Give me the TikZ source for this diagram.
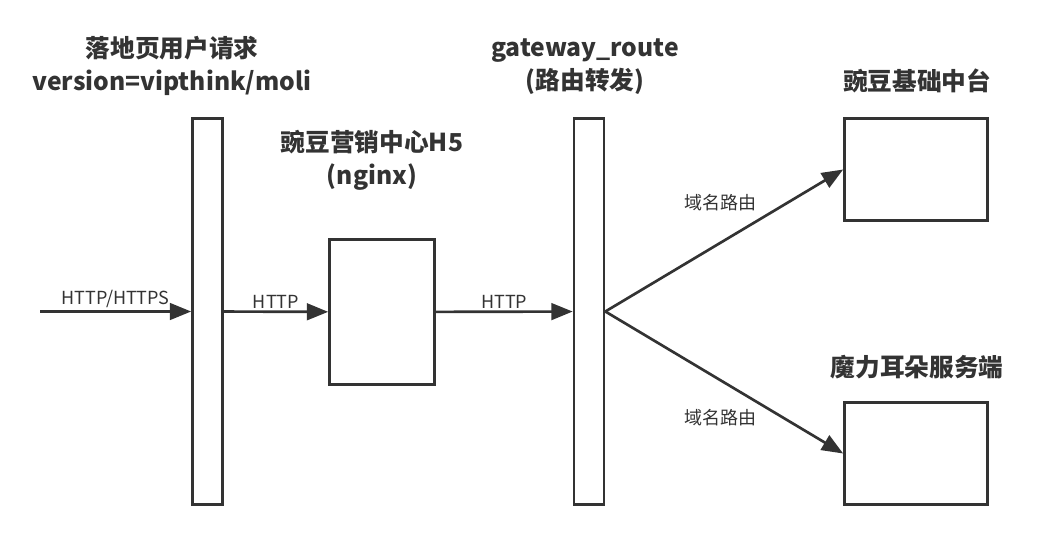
\documentclass[tikz,border=0pt]{standalone}
\usepackage{fontspec}
\setmainfont{Noto Sans CJK SC}
\usetikzlibrary{arrows.meta}
\definecolor{ink}{HTML}{333333}

\begin{document}
\begin{tikzpicture}[
    x=0.75pt, y=-0.75pt,
    >={Triangle[length=16pt, width=12.5pt]},
    line width=2pt,
    bar/.style={draw=ink, minimum width=22.5pt, minimum height=289.5pt, inner sep=0pt},
    box/.style={draw=ink, inner sep=0pt},
    title/.style={text=ink, align=center, font=\fontsize{18.5}{24.75}\selectfont\bfseries},
    lbl/.style={text=ink, font=\fontsize{13.5}{16}\selectfont, inner sep=1.5pt},
    align=center
]
    \useasboundingbox (0,0) rectangle (1062,543);

    % INPUT
    \coordinate (in_start) at (40, 311.5);

    % BARS AND BOXES
    \node (bar_in) at (207.5, 311.5) [bar] {};
    \node (box_h5) at (382, 312) [box, minimum width=78.75pt, minimum height=108.75pt] {};
    \node (bar_gw) at (589, 311.5) [bar] {};
    \node (box_base) at (916, 169.5) [box, minimum width=107.25pt, minimum height=76.5pt] {};
    \node (box_moli) at (916, 453.5) [box, minimum width=107.25pt, minimum height=76.5pt] {};

    % TITLES
    \node (title_in) at (172, 65.5) [title] {落地页用户请求\\version=vipthink/moli};
    \node (title_h5) at (372, 160.5) [title] {豌豆营销中心H5\\(nginx)};
    \node (title_gw) at (585, 66.5) [title] {gateway\_route\\(路由转发)};
    \node (title_base) at (917, 81) [title] {豌豆基础中台};
    \node (title_moli) at (917, 367) [title] {魔力耳朵服务端};

    % CONNECTIONS
    \draw[->, ink] (in_start) -- node[lbl, above]{HTTP/HTTPS} (bar_in);
    \draw[->, ink] (bar_in) -- node[lbl, above]{HTTP} (box_h5);
    \draw[->, ink] (box_h5) -- node[lbl, above]{HTTP} (bar_gw);
    \draw[->, ink] (bar_gw.east) -- (box_base.west);
    \draw[->, ink] (bar_gw.east) -- (box_moli.west);

    % ROUTE LABELS
    \node (route_base) at (720, 203) [lbl] {域名路由};
    \node (route_moli) at (720, 418) [lbl] {域名路由};
\end{tikzpicture}
\end{document}
